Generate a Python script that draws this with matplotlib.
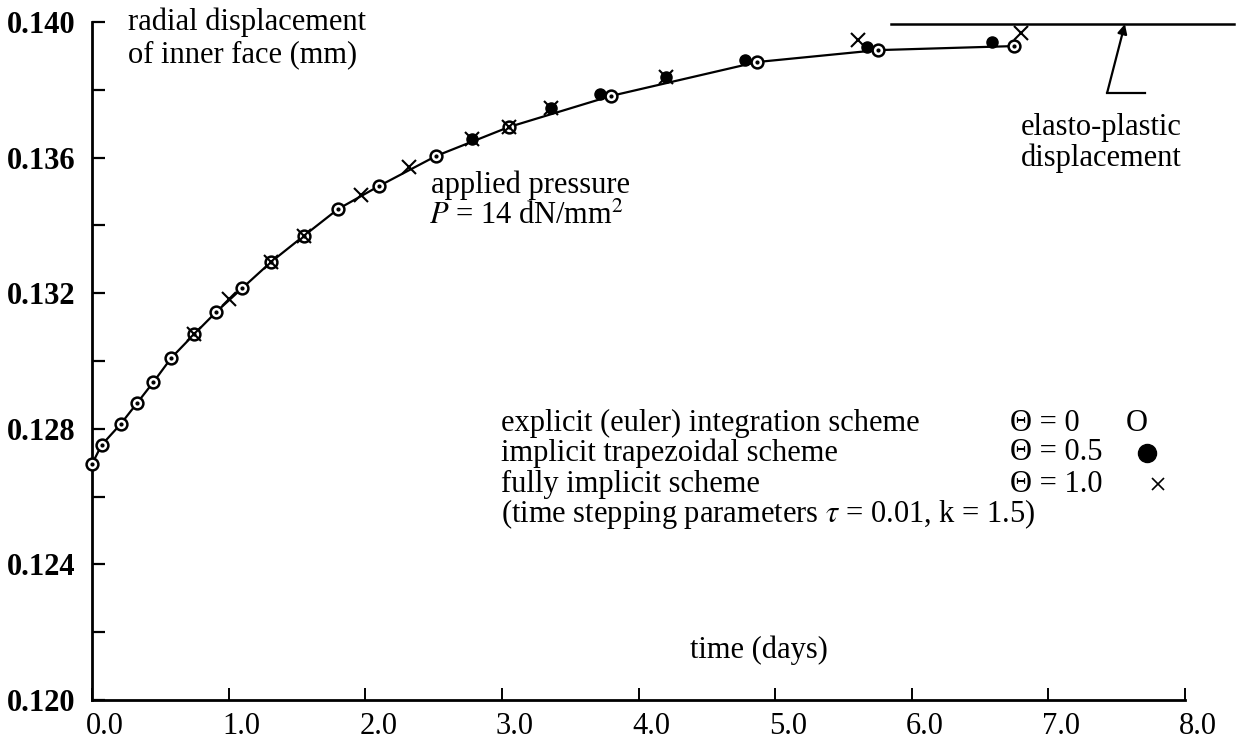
import matplotlib
matplotlib.use("Agg")
import matplotlib.pyplot as plt
from matplotlib.transforms import ScaledTranslation

plt.rcParams['font.family'] = ['Liberation Serif', 'DejaVu Serif']
plt.rcParams['mathtext.fontset'] = 'stix'

# ---- data ----
explicit_t = [0.00, 0.07, 0.21, 0.33, 0.45, 0.58, 0.75, 0.91, 1.10, 1.31, 1.55,
              1.80, 2.10, 2.52, 3.05, 3.80, 4.87, 5.75, 6.75]
explicit_u = [0.12696, 0.12752, 0.12814, 0.12876, 0.12938, 0.13009, 0.13080,
              0.13145, 0.13215, 0.13292, 0.13369, 0.13448, 0.13516, 0.13605,
              0.13690, 0.13782, 0.13882, 0.13917, 0.13929]

trap_t = [2.78, 3.36, 3.72, 4.20, 4.78, 5.67, 6.59]
trap_u = [0.13655, 0.13746, 0.13788, 0.13838, 0.13888, 0.13926, 0.13941]

implicit_t = [0.75, 1.00, 1.31, 1.55, 1.97, 2.32, 2.78, 3.05, 3.36, 4.20, 5.61, 6.80]
implicit_u = [0.13080, 0.13183, 0.13292, 0.13369, 0.13490, 0.13572, 0.13655,
              0.13690, 0.13746, 0.13838, 0.13947, 0.13968]

elasto_t = [5.85, 8.36]
elasto_u = [0.13994, 0.13994]

x_ticks = [0, 1, 2, 3, 4, 5, 6, 7, 8]
x_ticklabels = ['0.0', '1.0', '2.0', '3.0', '4.0', '5.0', '6.0', '7.0', '8.0']
y_major = [0.120, 0.124, 0.128, 0.132, 0.136, 0.140]
y_ticklabels = ['0.120', '0.124', '0.128', '0.132', '0.136', '0.140']
y_minor = [0.122, 0.126, 0.130, 0.134, 0.138]

legend_lines = ['explicit (euler) integration scheme',
                'implicit trapezoidal scheme',
                'fully implicit scheme',
                r'(time stepping parameters $\tau$ = 0.01, k = 1.5)']
theta_labels = ['Θ = 0', 'Θ = 0.5', 'Θ = 1.0']

# ---- figure ----
fig = plt.figure(figsize=(12.43, 7.46), dpi=100)
ax = fig.add_axes([92/1243, 1-700/746, (1185-92)/1243, (700-22)/746])
ax.set_xlim(0, 8)
ax.set_ylim(0.120, 0.140)

for s in ['top', 'right']:
    ax.spines[s].set_visible(False)
for s in ['left', 'bottom']:
    ax.spines[s].set_linewidth(2.0)

ax.set_xticks(x_ticks)
ax.set_xticklabels(x_ticklabels, fontsize=22)
ax.set_yticks(y_major)
ax.set_yticklabels(y_ticklabels, fontsize=22, fontweight='bold')
ax.set_yticks(y_minor, minor=True)
ax.tick_params(axis='y', which='both', direction='in', length=9, width=1.6, pad=12)
ax.tick_params(axis='x', which='both', direction='in', length=9, width=1.4, pad=9)
off = ScaledTranslation(13/100, 0, fig.dpi_scale_trans)
for lab in ax.get_xticklabels():
    lab.set_transform(lab.get_transform() + off)

# curve + markers
ax.plot(explicit_t, explicit_u, '-', color='black', lw=1.6, clip_on=False, zorder=2)
ax.plot(explicit_t, explicit_u, 'o', ms=8.5, mfc='white', mec='black', mew=1.8,
        clip_on=False, zorder=3)
ax.plot(explicit_t, explicit_u, 'o', ms=2, color='black', clip_on=False, zorder=4)
ax.plot(trap_t, trap_u, 'o', ms=8, color='black', clip_on=False, zorder=5)
ax.plot(implicit_t, implicit_u, 'x', ms=9.5, mew=1.5, color='black', clip_on=False, zorder=6)

# elasto-plastic displacement line + leader arrow
ax.plot(elasto_t, elasto_u, '-', color='black', lw=1.8, clip_on=False)
ax.plot([7.43, 7.71], [0.13791, 0.13791], '-', color='black', lw=1.6, clip_on=False)
ax.annotate('', xy=(7.56, 0.13994), xytext=(7.43, 0.13791),
            arrowprops=dict(arrowstyle='-|>', color='black', lw=1.6,
                            mutation_scale=14, shrinkA=0, shrinkB=0))

fs = 22
ax.text(0.26, 0.14000, 'radial displacement', fontsize=fs, va='center', ha='left')
ax.text(0.26, 0.13903, 'of inner face (mm)', fontsize=fs, va='center', ha='left')
ax.text(2.48, 0.13519, 'applied pressure', fontsize=fs, va='center', ha='left')
ax.text(2.47, 0.13428, r'$P$ = 14 dN/mm$^2$', fontsize=fs, va='center', ha='left')
ax.text(4.88, 0.12147, 'time (days)', fontsize=fs, va='center', ha='center')
ax.text(7.39, 0.13690, 'elasto-plastic', fontsize=fs, va='center', ha='center')
ax.text(7.39, 0.13599, 'displacement', fontsize=fs, va='center', ha='center')

leg_y = [0.12817, 0.12729, 0.12637, 0.12549]
for yy, t in zip(leg_y, legend_lines):
    ax.text(2.99, yy, t, fontsize=fs, va='center', ha='left')
for yy, t in zip(leg_y[:3], theta_labels):
    ax.text(6.72, yy, t, fontsize=fs, va='center', ha='left')
ax.text(7.65, leg_y[0], 'O', fontsize=fs, va='center', ha='center')
ax.plot([7.72], [leg_y[1]], 'o', ms=13, color='black', clip_on=False)
ax.plot([7.80], [leg_y[2]], 'x', ms=9, mew=1.2, color='black', clip_on=False)

fig.savefig('out.png', dpi=100)
